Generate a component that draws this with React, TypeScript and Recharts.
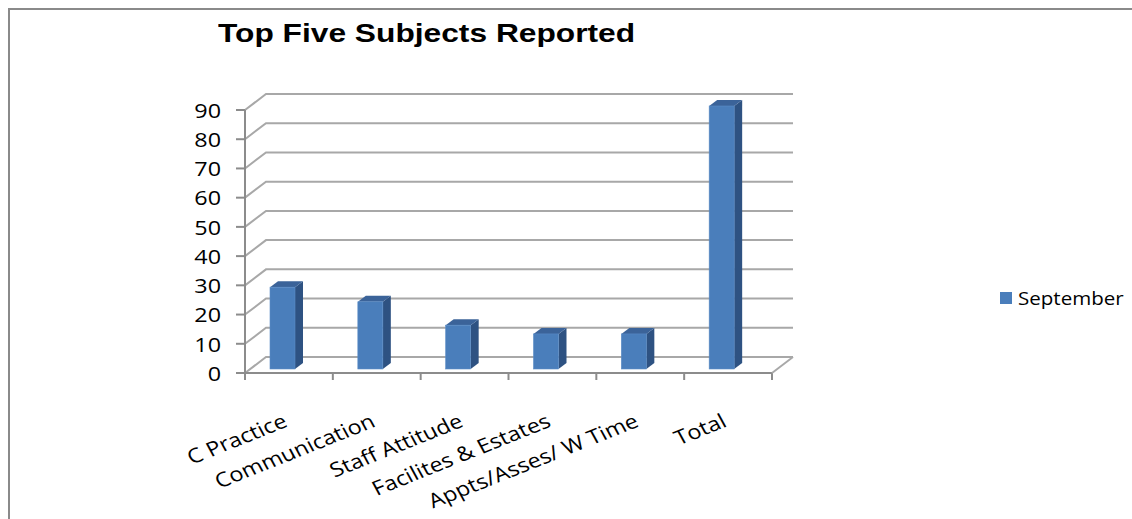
import React from 'react';
import { BarChart, Bar, XAxis, YAxis, CartesianGrid, Legend } from 'recharts';

const title = 'Top Five Subjects Reported';
const seriesName = 'September';
const categories = [
  'C Practice',
  'Communication',
  'Staff Attitude',
  'Facilites & Estates',
  'Appts/Asses/ W Time',
  'Total',
];
const septemberValues = [28, 23, 15, 12, 12, 90];
const yTicks = [0, 10, 20, 30, 40, 50, 60, 70, 80, 90];

const data = categories.map((name, i) => ({ name, september: septemberValues[i] }));

const LABEL_FONT = '"Open Sans", Lato, sans-serif';
const STRETCH = 1.17;
const DEPTH_X = 21;
const DEPTH_Y = 16;
const AXIS_COLOR = '#8C8C8C';
const GRID_COLOR = '#A8A8A8';
const FRONT = '#4A7EBB';
const SIDE = '#2E5282';
const TOP = '#3B6399';

const GridLine = (props: any) => {
  const { x1, y1, x2 } = props;
  return (
    <polyline
      points={`${x1},${y1} ${x1 + DEPTH_X},${y1 - DEPTH_Y} ${x2 + DEPTH_X},${y1 - DEPTH_Y}`}
      fill="none"
      stroke={GRID_COLOR}
      strokeWidth={2}
    />
  );
};

const Bar3D = (props: any) => {
  const { x, y, width, height } = props;
  if (height == null || width == null) return null;
  const bx = x - 6;
  const by = y - 4;
  const dx = 8;
  const dy = 6;
  return (
    <g>
      <polygon
        points={`${bx + width},${by} ${bx + width + dx},${by - dy} ${bx + width + dx},${by + height - dy} ${bx + width},${by + height}`}
        fill={SIDE}
      />
      <polygon
        points={`${bx},${by} ${bx + dx},${by - dy} ${bx + width + dx},${by - dy} ${bx + width},${by}`}
        fill={TOP}
      />
      <rect x={bx} y={by} width={width} height={height} fill={FRONT} stroke="#5A8CC6" strokeWidth={0.6} />
    </g>
  );
};

const XTick = (props: any) => {
  const { x, y, payload, index, visibleTicksCount } = props;
  const half = payload && payload.offset ? payload.offset : 43.9;
  const last = index === visibleTicksCount - 1;
  return (
    <g>
      <line x1={x - half} y1={y} x2={x - half} y2={y + 7} stroke={AXIS_COLOR} strokeWidth={2} />
      {last && (
        <>
          <line x1={x + half} y1={y} x2={x + half} y2={y + 7} stroke={AXIS_COLOR} strokeWidth={2} />
          <line x1={x + half} y1={y} x2={x + half + DEPTH_X} y2={y - DEPTH_Y} stroke={GRID_COLOR} strokeWidth={2} />
        </>
      )}
      <text
        transform={`translate(${x},${y + 53}) scale(${STRETCH},1) rotate(-25)`}
        textAnchor="end"
        fontFamily={LABEL_FONT}
        fontSize={20}
        fill="#000"
      >
        {payload.value}
      </text>
    </g>
  );
};

const YTick = (props: any) => {
  const { x, y, payload } = props;
  return (
    <text
      transform={`translate(${x - 15},${y}) scale(${STRETCH},1)`}
      textAnchor="end"
      dominantBaseline="central"
      fontFamily={LABEL_FONT}
      fontSize={20}
      fill="#000"
    >
      {payload.value}
    </text>
  );
};

const LegendContent = () => (
  <div style={{ display: 'flex', alignItems: 'center', fontFamily: LABEL_FONT }}>
    <div style={{ width: 12, height: 12, background: FRONT, marginRight: 6 }} />
    <span
      style={{
        fontSize: 19,
        color: '#000',
        display: 'inline-block',
        transform: 'scaleX(1.08)',
        transformOrigin: 'left center',
        whiteSpace: 'nowrap',
      }}
    >
      {seriesName}
    </span>
  </div>
);

export default function App() {
  return (
    <div
      style={{
        position: 'absolute',
        left: 0,
        top: 0,
        width: 1132,
        height: 519,
        background: '#fff',
        overflow: 'hidden',
      }}
    >
      <div
        style={{
          position: 'absolute',
          left: 8,
          top: 8,
          width: 1200,
          height: 600,
          borderLeft: '2px solid #8A8A8A',
          borderTop: '2px solid #8A8A8A',
        }}
      />
      <div
        style={{
          position: 'absolute',
          left: 218,
          top: 18,
          fontFamily: '"Liberation Sans", Arial, sans-serif',
          fontWeight: 'bold',
          fontSize: 26,
          lineHeight: '30px',
          whiteSpace: 'nowrap',
          transform: 'scaleX(1.22)',
          transformOrigin: 'left top',
          color: '#000',
        }}
      >
        {title}
      </div>
      <div style={{ position: 'absolute', left: 0, top: 0 }}>
        <BarChart
          width={1132}
          height={519}
          data={data}
          margin={{ top: 110, right: 360, bottom: 46, left: 185 }}
        >
          <CartesianGrid vertical={false} horizontal={GridLine} />
          <XAxis
            dataKey="name"
            height={100}
            interval={0}
            tickLine={false}
            tickSize={0}
            tickMargin={0}
            axisLine={{ stroke: AXIS_COLOR, strokeWidth: 2 }}
            tick={<XTick />}
          />
          <YAxis
            width={60}
            domain={[0, 90]}
            ticks={yTicks}
            interval={0}
            tickSize={9}
            tickMargin={0}
            tickLine={{ stroke: AXIS_COLOR, strokeWidth: 2 }}
            axisLine={{ stroke: AXIS_COLOR, strokeWidth: 2 }}
            tick={<YTick />}
          />
          <Legend
            layout="horizontal"
            verticalAlign="middle"
            align="center"
            content={<LegendContent />}
            wrapperStyle={{ left: 1000, top: 285, width: 132 }}
          />
          <Bar
            dataKey="september"
            name={seriesName}
            barSize={25}
            fill={FRONT}
            shape={<Bar3D />}
            isAnimationActive={false}
          />
        </BarChart>
      </div>
    </div>
  );
}
